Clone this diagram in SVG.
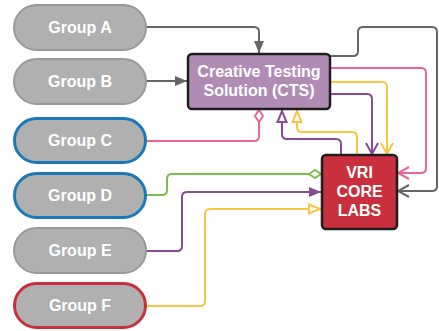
<svg xmlns="http://www.w3.org/2000/svg" width="439" height="331" viewBox="0 0 439 331">
  <style>
    .pill { fill: #b0b0b0; stroke-width: 3; }
    .gray { stroke: #999999; stroke-width: 2; }
    .blue { stroke: #1a7ab8; }
    .red { stroke: #c8303d; }
    .lbl { font-family: "Liberation Sans", Arial, sans-serif; font-weight: bold; font-size: 16px; fill: #ffffff; text-anchor: middle; dominant-baseline: central; }
    .box { stroke: #1e1e1e; stroke-width: 2.5; }
    .c { fill: none; stroke-width: 2; stroke-linejoin: round; }
  </style>
  <defs>
    <marker id="fillGray" viewBox="0 0 12 12" refX="12" refY="6" markerWidth="12" markerHeight="12" markerUnits="userSpaceOnUse" orient="auto">
      <path d="M0,1 L12,6 L0,11 Z" fill="#666666"/>
    </marker>
    <marker id="fillPurple" viewBox="0 0 12 12" refX="12" refY="6" markerWidth="12" markerHeight="12" markerUnits="userSpaceOnUse" orient="auto">
      <path d="M0,1 L12,6 L0,11 Z" fill="#8b4a96"/>
    </marker>
    <marker id="openGray" viewBox="0 0 14 14" refX="12" refY="7" markerWidth="14" markerHeight="14" markerUnits="userSpaceOnUse" orient="auto">
      <path d="M1,1 L12,7 L1,13" fill="none" stroke="#666666" stroke-width="2"/>
    </marker>
    <marker id="openPink" viewBox="0 0 14 14" refX="12" refY="7" markerWidth="14" markerHeight="14" markerUnits="userSpaceOnUse" orient="auto">
      <path d="M1,1 L12,7 L1,13" fill="none" stroke="#e8668f" stroke-width="2"/>
    </marker>
    <marker id="openYellow" viewBox="0 0 14 14" refX="12" refY="7" markerWidth="14" markerHeight="14" markerUnits="userSpaceOnUse" orient="auto">
      <path d="M1,1 L12,7 L1,13" fill="none" stroke="#fcc441" stroke-width="2"/>
    </marker>
    <marker id="openPurple" viewBox="0 0 14 14" refX="12" refY="7" markerWidth="14" markerHeight="14" markerUnits="userSpaceOnUse" orient="auto">
      <path d="M1,1 L12,7 L1,13" fill="none" stroke="#8b4a96" stroke-width="2"/>
    </marker>
    <marker id="triPurple" viewBox="0 0 14 12" refX="13" refY="6" markerWidth="14" markerHeight="12" markerUnits="userSpaceOnUse" orient="auto">
      <path d="M1,1.5 L12,6 L1,10.5 Z" fill="#ffffff" stroke="#8b4a96" stroke-width="2"/>
    </marker>
    <marker id="triYellow" viewBox="0 0 14 12" refX="13" refY="6" markerWidth="14" markerHeight="12" markerUnits="userSpaceOnUse" orient="auto">
      <path d="M1,1.5 L12,6 L1,10.5 Z" fill="#ffffff" stroke="#fcc441" stroke-width="2"/>
    </marker>
    <marker id="diaPink" viewBox="0 0 14 10" refX="13" refY="5" markerWidth="14" markerHeight="10" markerUnits="userSpaceOnUse" orient="auto">
      <path d="M1,5 L7,1 L13,5 L7,9 Z" fill="#ffffff" stroke="#e8668f" stroke-width="2"/>
    </marker>
    <marker id="diaGreen" viewBox="0 0 14 10" refX="13" refY="5" markerWidth="14" markerHeight="10" markerUnits="userSpaceOnUse" orient="auto">
      <path d="M1,5 L7,1 L13,5 L7,9 Z" fill="#ffffff" stroke="#7cbf4c" stroke-width="2"/>
    </marker>
  </defs>

  <!-- connectors -->
  <g id="connectors">
    <path class="c" stroke="#666666" d="M146,27 H254 Q259,27 259,32 V53" marker-end="url(#fillGray)"/>
    <path class="c" stroke="#666666" d="M146,81 H187" marker-end="url(#fillGray)"/>
    <path class="c" stroke="#666666" d="M330,56 H353 Q358,56 358,51 V32 Q358,27 363,27 H432 Q437,27 437,32 V186 Q437,191 432,191 H398" marker-end="url(#openGray)"/>
    <path class="c" stroke="#e8668f" d="M330,68 H421 Q426,68 426,73 V168 Q426,173 421,173 H398" marker-end="url(#openPink)"/>
    <path class="c" stroke="#fcc441" d="M330,82 H382 Q387,82 387,87 V154" marker-end="url(#openYellow)"/>
    <path class="c" stroke="#8b4a96" d="M330,94 H367 Q372,94 372,99 V154" marker-end="url(#openPurple)"/>
    <path class="c" stroke="#e8668f" d="M146,141 H254 Q259,141 259,136 V110" marker-end="url(#diaPink)"/>
    <path class="c" stroke="#8b4a96" d="M341,155 V144 Q341,139 336,139 H287 Q282,139 282,134 V110" marker-end="url(#triPurple)"/>
    <path class="c" stroke="#fcc441" d="M357,155 V137 Q357,132 352,132 H302 Q297,132 297,127 V110" marker-end="url(#triYellow)"/>
    <path class="c" stroke="#7cbf4c" d="M146,195 H162 Q167,195 167,190 V179 Q167,174 172,174 H321" marker-end="url(#diaGreen)"/>
    <path class="c" stroke="#8b4a96" d="M146,251 H177 Q182,251 182,246 V197 Q182,192 187,192 H321" marker-end="url(#fillPurple)"/>
    <path class="c" stroke="#fcc441" d="M146,306 H200 Q205,306 205,301 V214 Q205,209 210,209 H321" marker-end="url(#triYellow)"/>
  </g>

  <!-- source groups -->
  <g id="group-a">
    <rect class="pill gray" x="14" y="5" width="132" height="45" rx="22.5"/>
    <text class="lbl" x="80" y="27">Group A</text>
  </g>
  <g id="group-b">
    <rect class="pill gray" x="14" y="59" width="132" height="45" rx="22.5"/>
    <text class="lbl" x="80" y="81">Group B</text>
  </g>
  <g id="group-c">
    <rect class="pill blue" x="14.5" y="118.5" width="131" height="44" rx="22"/>
    <text class="lbl" x="80" y="140">Group C</text>
  </g>
  <g id="group-d">
    <rect class="pill blue" x="14.5" y="173.5" width="131" height="44" rx="22"/>
    <text class="lbl" x="80" y="195">Group D</text>
  </g>
  <g id="group-e">
    <rect class="pill gray" x="14" y="228" width="132" height="45" rx="22.5"/>
    <text class="lbl" x="80" y="250">Group E</text>
  </g>
  <g id="group-f">
    <rect class="pill red" x="14.5" y="283.5" width="131" height="44" rx="22"/>
    <text class="lbl" x="80" y="305">Group F</text>
  </g>

  <!-- Creative Testing Solution -->
  <g id="cts">
    <rect class="box" x="188" y="54" width="142" height="55" rx="4" fill="#b08cb4"/>
    <text class="lbl" x="259" y="71">Creative Testing</text>
    <text class="lbl" x="259" y="90">Solution (CTS)</text>
  </g>

  <!-- VRI Core Labs -->
  <g id="vri">
    <rect class="box" x="322" y="155" width="75" height="74" rx="4" fill="#c92f3c"/>
    <text class="lbl" x="359.5" y="172">VRI</text>
    <text class="lbl" x="359.5" y="191">CORE</text>
    <text class="lbl" x="359.5" y="210">LABS</text>
  </g>
</svg>
